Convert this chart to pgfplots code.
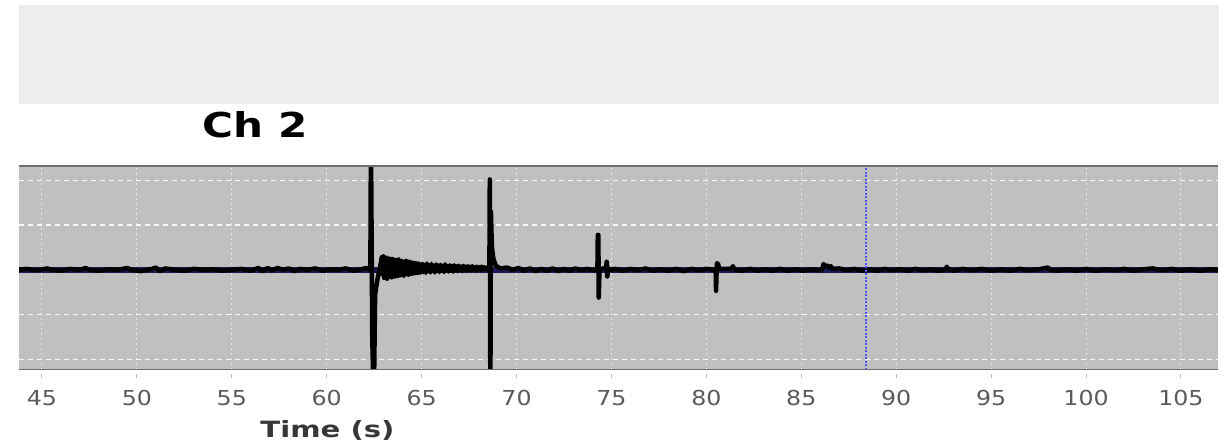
\documentclass[border=0pt]{standalone}
\usepackage{fontspec}
\usepackage{pgfplots}
\pgfplotsset{compat=1.18}
\newfontfamily\tickfont[FakeStretch=1.15]{DejaVu Sans}
\newfontfamily\labfont[FakeStretch=1.3]{DejaVu Sans}
\newfontfamily\titlefont[FakeStretch=1.23]{DejaVu Sans}
\definecolor{plotbg}{RGB}{192,192,192}
\definecolor{band}{RGB}{237,237,237}
\definecolor{border}{RGB}{110,110,110}
\definecolor{navyline}{RGB}{25,25,85}
\definecolor{tickgray}{RGB}{90,90,90}
\definecolor{labgray}{RGB}{55,55,55}
\definecolor{vline}{RGB}{80,80,255}
\definecolor{axlight}{RGB}{200,200,200}
\begin{document}
\begin{tikzpicture}
\useasboundingbox (0pt,0pt) rectangle (1225pt,446pt);
\fill[band] (19pt,342pt) rectangle (1218.5pt,441pt);
\begin{axis}[
  at={(19pt,76pt)}, anchor=south west,
  scale only axis, width=1199pt, height=204pt,
  xmin=43.79, xmax=106.95, ymin=-2.24, ymax=2.32,
  axis background/.style={fill=plotbg},
  axis line style={draw=none},
  xtick={45,50,...,105}, ytick={-2,-1,0,1,2},
  yticklabels={,,,,},
  xtick pos=lower, ytick pos=left,
  tick align=outside, major tick length=4pt,
  xtick style={draw=axlight!80!gray, line width=1pt, yshift=-4pt},
  ytick style={draw=none},
  /pgf/number format/assume math mode=true,
  xticklabel style={font=\tickfont\fontsize{20.6}{24}\selectfont, text=tickgray, anchor=base, yshift=-32pt},
  grid=major,
  major grid style={color=white, dash pattern=on 5pt off 4pt, line width=1.2pt, opacity=0.9},
  x grid style={color=white, dash pattern=on 2pt off 3pt, line width=1pt, opacity=0.6},
  title={Ch 2},
  title style={font=\titlefont\bfseries\fontsize{34.3}{40}\selectfont, text=black, at={(rel axis cs:0.1972,1)}, anchor=base, yshift=22.7pt, inner sep=0pt},
  xlabel={Time (s)},
  xlabel style={font=\labfont\bfseries\fontsize{22.4}{27}\selectfont, text=labgray, at={(rel axis cs:0.2573,0)}, anchor=base, yshift=-68pt, inner sep=0pt},
  clip=true,
]
\addplot[navyline, line width=6pt, forget plot] coordinates {(43.79,0) (106.95,0)};
\addplot[black, line width=4.5pt, line join=round, line cap=round, sharp plot] coordinates {
(43.79,0.00) (44.2,0.02) (44.6,-0.01) (45.0,0.01) (45.3,0.03) (45.5,0.00) (46.0,-0.02) (46.5,0.02) (47.0,0.00) (47.3,0.04) (47.5,0.00) (48.0,-0.02) (48.5,0.01) (49.0,0.00) (49.5,0.04) (49.7,0.00) (50.2,-0.03) (50.8,0.02) (51.0,0.05) (51.2,-0.03) (51.5,0.03) (52.0,0.00) (52.5,-0.02) (53.0,0.02) (53.5,0.00) (54.0,0.01) (54.5,-0.02) (55.0,0.00) (55.5,0.02) (56.0,-0.02) (56.4,0.04) (56.6,-0.03) (56.9,0.04) (57.1,-0.02) (57.4,0.04) (57.7,0.00) (58.0,0.03) (58.3,-0.03) (58.6,0.02) (59.0,0.00) (59.4,0.03) (59.8,-0.02) (60.2,0.01) (60.6,0.00) (61.0,0.03) (61.4,-0.02) (61.8,0.01) (62.1,0.04) (62.25,0.00)
(62.30,0.05) (62.33,3.0) (62.40,-1.55) (62.48,-3.0) (62.55,-0.55) (62.62,-0.35) (62.70,-0.15) (62.78,0.0) (62.85,0.15)
(62.90,0.28) (62.94,-0.10) (62.98,0.30) (63.02,-0.18) (63.06,0.22) (63.10,-0.05) (63.14,0.27) (63.18,-0.20) (63.22,0.15) (63.26,-0.12) (63.30,0.25) (63.34,0.02) (63.38,0.20) (63.42,-0.17) (63.46,0.24) (63.50,-0.08) (63.54,0.18) (63.58,-0.15) (63.62,0.22) (63.66,0.00) (63.70,0.19) (63.74,-0.14) (63.78,0.23) (63.82,-0.06) (63.86,0.15) (63.90,-0.12) (63.94,0.20) (63.98,-0.03) (64.02,0.17) (64.06,-0.13) (64.10,0.12) (64.14,-0.09) (64.18,0.20) (64.22,-0.02) (64.26,0.14) (64.30,-0.11) (64.34,0.18) (64.38,-0.05) (64.42,0.12) (64.46,-0.09) (64.50,0.16) (64.54,0.00) (64.58,0.13) (64.62,-0.08) (64.66,0.15) (64.70,-0.04) (64.74,0.11) (64.78,-0.07) (64.82,0.14) (64.86,-0.02) (64.90,0.12) (64.94,-0.06) (64.98,0.10)
(65.04,0.13) (65.10,-0.05) (65.16,0.11) (65.22,-0.07) (65.28,0.14) (65.34,0.00) (65.40,0.10) (65.46,-0.06) (65.52,0.13) (65.58,-0.02) (65.64,0.09) (65.70,-0.06) (65.76,0.12) (65.82,0.01) (65.88,0.10) (65.94,-0.05) (66.00,0.11) (66.06,-0.01) (66.12,0.09) (66.18,-0.05) (66.24,0.12) (66.30,0.00) (66.36,0.08) (66.42,-0.04) (66.48,0.10) (66.54,-0.01) (66.60,0.09) (66.66,-0.04) (66.72,0.10) (66.78,0.01) (66.84,0.08) (66.90,-0.03) (66.96,0.09) (67.02,0.00) (67.08,0.07) (67.14,-0.03) (67.20,0.09) (67.26,0.01) (67.32,0.07) (67.38,-0.02) (67.44,0.08) (67.50,0.00) (67.56,0.07) (67.62,-0.02) (67.68,0.08) (67.74,0.01) (67.80,0.06) (67.86,-0.02) (67.92,0.07) (67.98,0.01) (68.04,0.06) (68.10,-0.01) (68.16,0.07) (68.22,0.01) (68.28,0.06) (68.34,0.00) (68.40,0.05) (68.46,0.01) (68.52,0.03)
(68.57,0.05) (68.59,2.02) (68.62,-3.0) (68.65,1.30) (68.70,0.50) (68.78,0.25) (68.88,0.12) (69.0,0.06)
(69.2,0.03) (69.5,0.05) (69.8,0.00) (70.1,0.04) (70.4,-0.02) (70.7,0.03) (71.0,-0.03) (71.3,0.02) (71.6,-0.02) (71.9,0.03) (72.2,-0.03) (72.5,0.02) (72.8,-0.02) (73.1,0.03) (73.4,-0.01) (73.7,0.02) (74.0,-0.01) (74.2,0.00)
(74.26,0.0) (74.28,0.78) (74.31,0.78) (74.33,-0.62) (74.37,0.0) (74.50,0.02) (74.72,0.05) (74.75,0.18) (74.78,-0.15) (74.83,0.03) (74.95,0.0)
(75.2,0.02) (75.6,-0.02) (76.0,0.02) (76.4,-0.01) (76.8,0.03) (77.2,-0.02) (77.6,0.01) (78.0,-0.02) (78.4,0.02) (78.8,-0.03) (79.2,0.02) (79.6,-0.01) (80.0,0.02) (80.4,0.00)
(80.49,0.0) (80.51,-0.47) (80.54,0.0) (80.56,0.15) (80.62,0.12) (80.68,0.02) (81.3,0.02) (81.4,0.08) (81.48,0.0)
(81.9,-0.02) (82.3,0.02) (82.7,-0.02) (83.1,0.01) (83.5,-0.02) (83.9,0.02) (84.3,-0.02) (84.7,0.01) (85.1,-0.02) (85.5,0.01) (85.9,-0.01) (86.1,0.00)
(86.17,0.13) (86.25,0.08) (86.35,0.10) (86.45,0.05) (86.55,0.08) (86.65,0.02)
(87.0,0.03) (87.4,-0.01) (87.8,0.02) (88.2,-0.02) (88.6,0.01) (89.0,-0.02) (89.4,0.02) (89.8,-0.01) (90.2,0.01) (90.6,-0.02) (91.0,0.02) (91.4,-0.01) (91.8,0.01) (92.2,-0.02) (92.6,0.00)
(92.66,0.07) (92.72,0.02)
(93.0,-0.02) (93.5,0.02) (94.0,-0.01) (94.5,0.02) (95.0,-0.02) (95.5,0.01) (96.0,-0.02) (96.5,0.02) (97.0,-0.01) (97.5,0.01) (98.0,0.05) (98.1,0.00) (98.5,-0.02) (99.0,0.01) (99.5,-0.02) (100.0,0.02) (100.5,-0.02) (101.0,0.01) (101.5,-0.01) (102.0,0.02) (102.5,-0.02) (103.0,0.01) (103.5,0.03) (104.0,-0.01) (104.5,0.02) (105.0,-0.02) (105.5,0.01) (106.0,-0.02) (106.5,0.01) (106.95,0.00)
};
\addplot[vline, line width=1.4pt, dash pattern=on 2pt off 1.5pt] coordinates {(88.4,-2.24) (88.4,2.32)};
\draw[border, line width=2pt] (rel axis cs:0,1) -- (rel axis cs:1,1);
\draw[border, line width=2pt] (rel axis cs:0,0) -- (rel axis cs:1,0);
\draw[axlight, line width=1.5pt] ([yshift=-4pt]rel axis cs:0,0) -- ([yshift=-4pt]rel axis cs:1,0);
\end{axis}
\end{tikzpicture}
\end{document}
